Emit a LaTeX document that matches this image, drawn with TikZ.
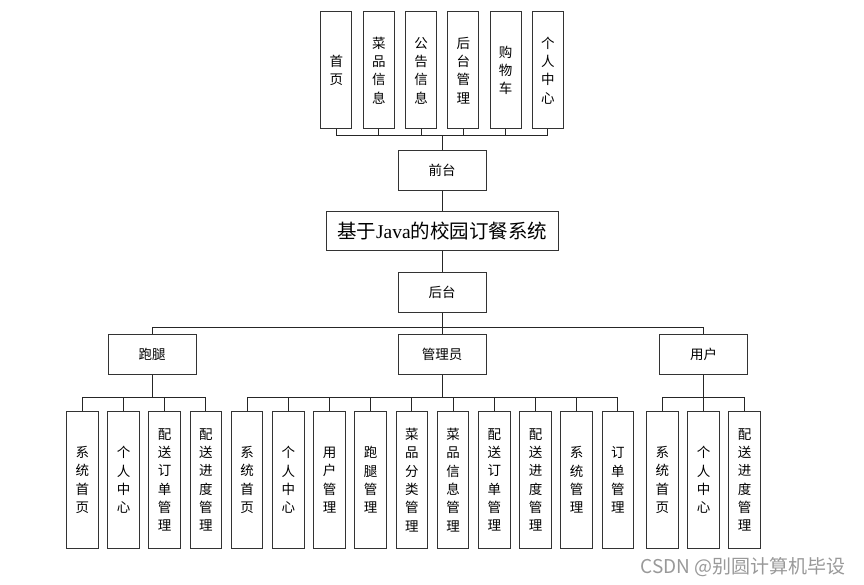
\documentclass[tikz,border=0pt]{standalone}
\usepackage{fontspec}
\usepackage{tikz}
\usetikzlibrary{positioning,calc}
\newfontfamily\cjk{Noto Sans CJK SC}
\newfontfamily\latinserif{Liberation Serif}
\begin{document}
\begin{tikzpicture}[x=1pt,y=1pt,font=\cjk\fontsize{13.5}{18.3}\selectfont,
 box/.style={draw=black!80,line width=1pt,rectangle,align=center,minimum width=88pt,minimum height=40pt,inner sep=0pt},
 sysbox/.style={box,minimum width=232pt,minimum height=39pt,font=\cjk\fontsize{19.5}{21}\selectfont},
 tall/.style={draw=black!80,line width=1pt,rectangle,align=center,text width=31pt,minimum height=117pt,inner sep=0pt},
 leaf/.style={tall,text width=31.6pt,minimum height=137.4pt},
 line/.style={draw=black!85,line width=1pt},
 wmark/.style={text=black!40,font=\cjk\fontsize{19}{19}\selectfont}]
\useasboundingbox (0,0) rectangle (864,-585);
\node[sysbox] (sys) at (442.2,-231.2) {基于{\latinserif Java}的校园订餐系统};
\node[box,above=20pt of sys] (qian) {前台};
\node[box,below=20.6pt of sys] (hou) {后台};
% front end pages
\node[tall,above=20.7pt of qian,xshift=-21.15pt] (f3) {公\\告\\信\\息};
\node[tall,above=20.7pt of qian,xshift=21.15pt] (f4) {后\\台\\管\\理};
\node[tall,left=10.3pt of f3] (f2) {菜\\品\\信\\息};
\node[tall,left=10.3pt of f2] (f1) {首\\页};
\node[tall,right=10.3pt of f4] (f5) {购\\物\\车};
\node[tall,right=10.3pt of f5] (f6) {个\\人\\中\\心};
% roles
\node[box,below=21pt of hou] (admin) {管理员};
\node[box,left=201pt of admin] (runner) {跑腿};
\node[box,right=172.3pt of admin] (user) {用户};
% runner pages
\node[leaf,below=36pt of runner,xshift=-69.9pt] (p1) {系\\统\\首\\页};
\node[leaf,right=8.6pt of p1] (p2) {个\\人\\中\\心};
\node[leaf,right=8.6pt of p2] (p3) {配\\送\\订\\单\\管\\理};
\node[leaf,right=8.6pt of p3] (p4) {配\\送\\进\\度\\管\\理};
% admin pages
\node[leaf,right=8.6pt of p4] (a1) {系\\统\\首\\页};
\node[leaf,right=8.6pt of a1] (a2) {个\\人\\中\\心};
\node[leaf,right=8.6pt of a2] (a3) {用\\户\\管\\理};
\node[leaf,right=8.6pt of a3] (a4) {跑\\腿\\管\\理};
\node[leaf,right=8.6pt of a4] (a5) {菜\\品\\分\\类\\管\\理};
\node[leaf,right=8.6pt of a5] (a6) {菜\\品\\信\\息\\管\\理};
\node[leaf,right=8.6pt of a6] (a7) {配\\送\\订\\单\\管\\理};
\node[leaf,right=8.6pt of a7] (a8) {配\\送\\进\\度\\管\\理};
\node[leaf,right=8.6pt of a8] (a9) {系\\统\\管\\理};
\node[leaf,right=8.6pt of a9] (a10) {订\\单\\管\\理};
% user pages
\node[leaf,below=36pt of user] (u2) {个\\人\\中\\心};
\node[leaf,left=8.6pt of u2] (u1) {系\\统\\首\\页};
\node[leaf,right=8.6pt of u2] (u3) {配\\送\\进\\度\\管\\理};
\node[wmark,anchor=east] (wm) at (849,-567) {CSDN @别圆计算机毕设};
% buses
\coordinate (busF) at ($(qian.north)+(0,14.7)$);
\coordinate (busH) at ($(hou.south)+(0,-15)$);
\coordinate (busR) at ($(runner.south)+(0,-22.4)$);
\coordinate (busA) at ($(admin.south)+(0,-22.4)$);
\coordinate (busU) at ($(user.south)+(0,-22.4)$);
\draw[line] (qian.north)--(busF) (busF)-|(f1.south) (busF)-|(f2.south) (busF)-|(f3.south)
 (busF)-|(f4.south) (busF)-|(f5.south) (busF)-|(f6.south);
\draw[line] (qian)--(sys); \draw[line] (sys)--(hou);
\draw[line] (hou.south)--(busH) (busH)-|(runner.north) (busH)-|(user.north) (busH)--(admin.north);
\draw[line] (runner.south)--(busR) (busR)-|(p1.north) (busR)-|(p2.north) (busR)-|(p3.north) (busR)-|(p4.north);
\draw[line] (admin.south)--(busA) (busA)-|(a1.north) (busA)-|(a2.north) (busA)-|(a3.north) (busA)-|(a4.north)
 (busA)-|(a5.north) (busA)-|(a6.north) (busA)-|(a7.north) (busA)-|(a8.north) (busA)-|(a9.north) (busA)-|(a10.north);
\draw[line] (user.south)--(busU) (busU)-|(u1.north) (busU)-|(u2.north) (busU)-|(u3.north);
\end{tikzpicture}
\end{document}
